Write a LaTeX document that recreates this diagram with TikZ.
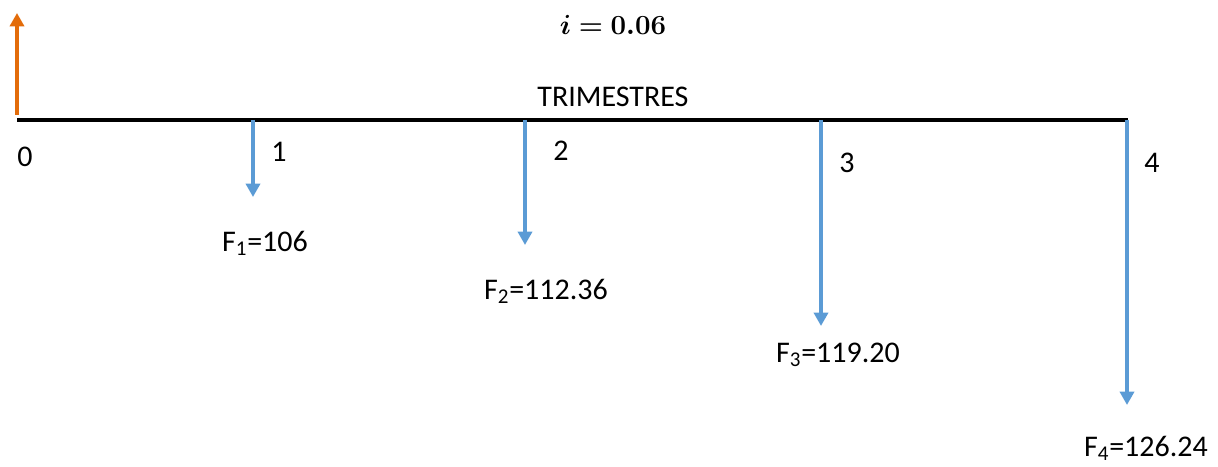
\documentclass[tikz,border=0pt]{standalone}
\usepackage{bm}
\usepackage{fontspec}
\setmainfont{Carlito}
\usepackage{tikz}
\usetikzlibrary{positioning, arrows.meta}
\definecolor{flowblue}{HTML}{5B9BD5}
\definecolor{floworange}{HTML}{E36C0A}

\begin{document}
\begin{tikzpicture}[x=0.75pt, y=-0.75pt,
    every node/.style={font=\fontsize{22.5}{27}\selectfont, inner sep=0pt},
    timeline/.style={line width=3pt, black},
    outflow/.style={flowblue, line width=3pt, -{Triangle[width=10.5pt, length=10pt]}},
    inflow/.style={floworange, line width=3pt, -{Triangle[width=10.5pt, length=10pt]}}]
    \useasboundingbox (0,0) rectangle (1218,467);
    % eje de tiempo
    \coordinate (t0) at (17,120);
    \coordinate (t4) at (1128,120);
    \draw[timeline] (t0) -- (t4);
    \node (trim) at (613,97) {TRIMESTRES};
    \node (tasa) at (613,25) {$\bm{i = 0.06}$};
    % prestamo recibido
    \coordinate (p0) at (17,13);
    \draw[inflow] ([yshift=4pt]t0) -- (p0);
    \node (n0) at (25,157) {0};
    % pagos trimestrales
    \foreach \k/\x/\tip/\lx/\ly/\fx/\fy/\val in {
        1/253/197/279/152/265/243/106,
        2/525/245/561/151/546/291/112.36,
        3/821/326/847/163/838/355/119.20,
        4/1127/405/1152/163/1146/448/126.24}{
        \coordinate (t\k) at (\x,120);
        \coordinate (f\k) at (\x,\tip);
        \draw[outflow] (t\k) -- (f\k);
        \node (n\k) at (\lx,\ly) {\k};
        \node (v\k) at (\fx,\fy) {F\textsubscript{\k}=\val};
    }
\end{tikzpicture}
\end{document}
